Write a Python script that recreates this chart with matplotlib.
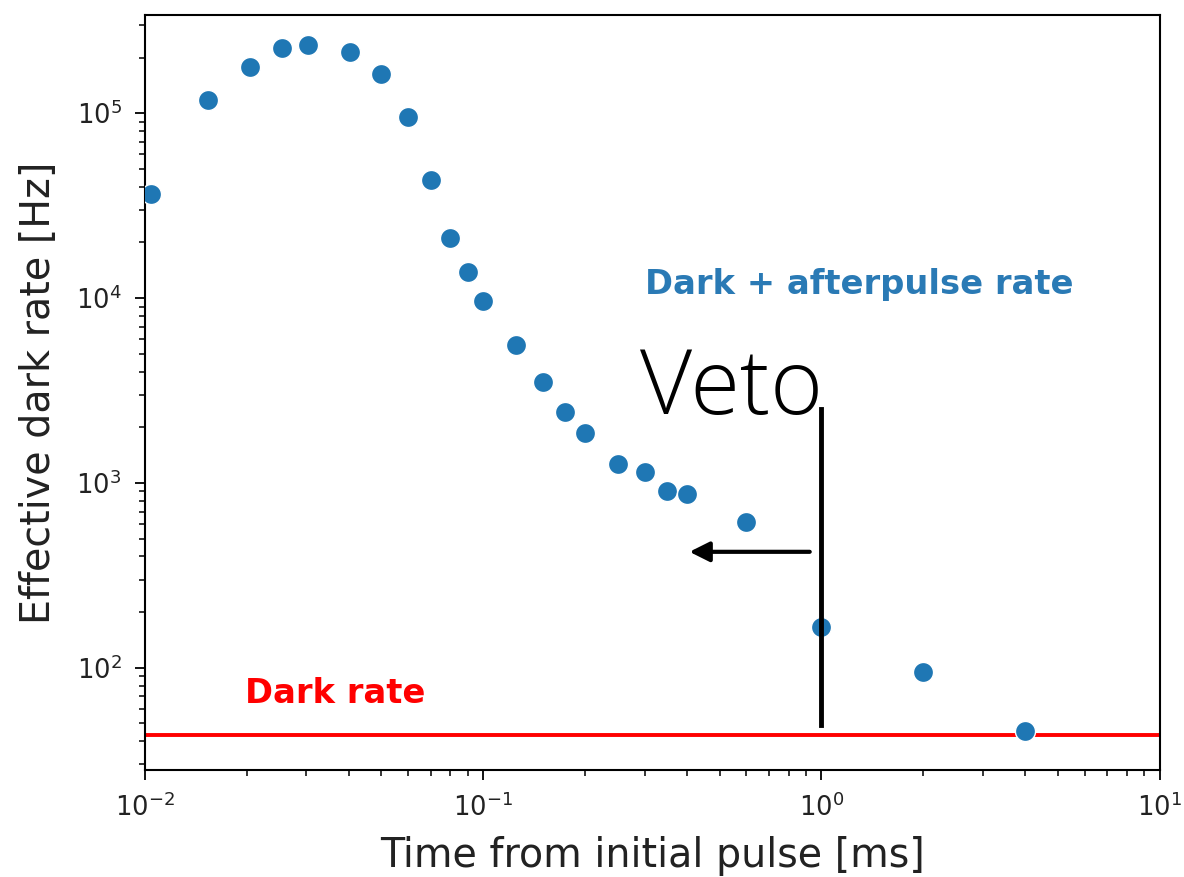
import numpy as np
import matplotlib
matplotlib.use("Agg")
import matplotlib.pyplot as plt

# (ms, Hz)
times = [0.0104, 0.0154, 0.0204, 0.0254, 0.0303, 0.0404, 0.05, 0.06, 0.07, 0.08,
         0.09, 0.1, 0.125, 0.15, 0.175, 0.2, 0.25, 0.3, 0.35, 0.4, 0.6, 1.0, 2.0, 4.0]
rates = [36500, 117500, 177000, 224000, 233000, 214000, 162000, 95000, 43500, 21000,
         13800, 9600, 5570, 3500, 2420, 1860, 1270, 1150, 905, 870, 615, 167, 95, 45.6]
dark_rate = 43.5
veto_time = 1.0

fig = plt.figure(figsize=(11.84, 8.77), dpi=100)
ax = fig.add_axes([0.1225, 0.122, 0.857, 0.861])

ax.scatter(times, rates, s=210, color='#1f77b4', edgecolor='white', linewidth=1, zorder=3)
ax.axhline(dark_rate, color='red', lw=2.8, zorder=2)

ax.set_xscale('log')
ax.set_yscale('log')
ax.set_xlim(1e-2, 1e1)
ax.set_ylim(28, 3.4e5)

ax.set_xlabel('Time from initial pulse [ms]', fontsize=28.5, labelpad=10, color='#222222')
ax.set_ylabel('Effective dark rate [Hz]', fontsize=28.5, labelpad=12, color='#222222')
ax.tick_params(which='major', labelsize=18.5, length=7, width=1.3, pad=10, labelcolor='#222222')
ax.tick_params(which='minor', length=4, width=1.1)
for sp in ax.spines.values():
    sp.set_linewidth(1.5)

ax.text(0.3, 11900, 'Dark + afterpulse rate', color='#2a7ab5', fontsize=24.3,
        fontweight='bold', va='center', ha='left')
ax.text(0.0197, 73, 'Dark rate', color='red', fontsize=24.3,
        fontweight='bold', va='center', ha='left')

# veto marker
ax.plot([veto_time, veto_time], [49, 2512], color='black', lw=3.5, zorder=4)
ax.annotate('', xy=(0.407, 424), xytext=(0.923, 424),
            arrowprops=dict(arrowstyle='-|>,head_length=1.2,head_width=0.6',
                            color='black', lw=3, shrinkA=0, shrinkB=0))
ax.text(0.29, 2360, 'Veto', fontsize=65, family='Open Sans', fontweight='light',
        va='baseline', ha='left')

fig.savefig('out.png', dpi=100)
